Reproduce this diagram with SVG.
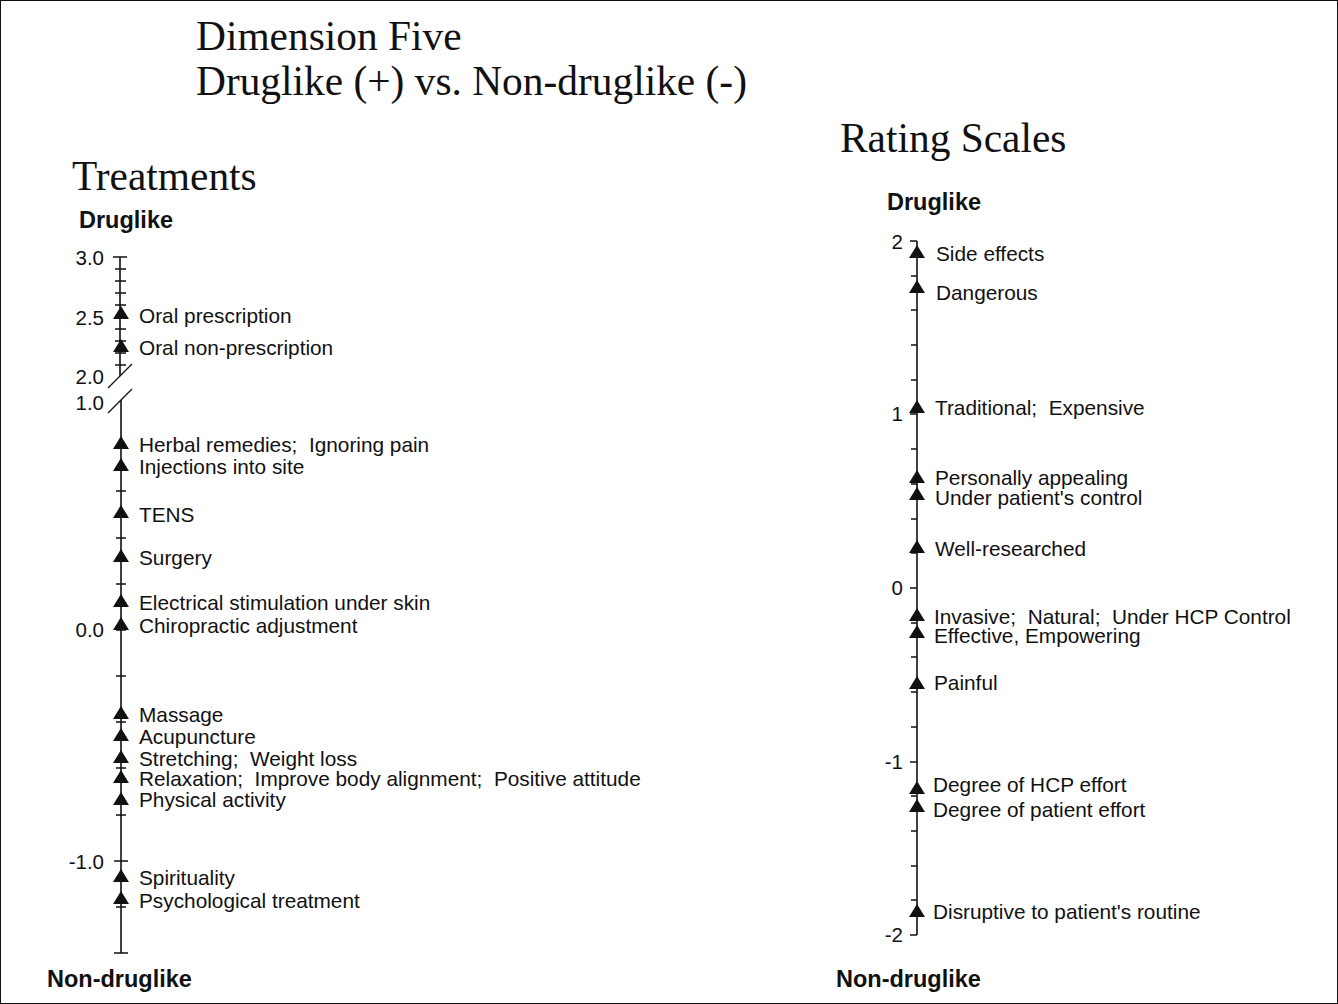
<svg xmlns="http://www.w3.org/2000/svg" xmlns:xlink="http://www.w3.org/1999/xlink" width="1338" height="1004" viewBox="0 0 1338 1004">
<style>
.title{font-family:"Liberation Serif","Times New Roman",serif;font-size:41.4px;fill:#111}
.lab{font-family:"Liberation Sans",Arial,sans-serif;font-size:20.8px;fill:#111;white-space:pre}
.num{font-family:"Liberation Sans",Arial,sans-serif;font-size:20.5px;fill:#111;text-anchor:end}
.end{font-family:"Liberation Sans",Arial,sans-serif;font-size:23.5px;font-weight:bold;fill:#111}
.ax{stroke:#111;stroke-width:1.6;fill:none}
.tk{stroke:#111;stroke-width:1.3;fill:none}
.mk{fill:#111}
</style>
<defs>
<path id="tri" class="mk" d="M0,-8 L8,5 L-8,5 Z"/>
</defs>
<rect x="0.5" y="0.5" width="1337" height="1003" fill="#fff" stroke="#111" stroke-width="1"/>

<g id="titles">
<text class="title" x="196" y="50">Dimension Five</text>
<text class="title" x="196" y="95">Druglike (+) vs. Non-druglike (-)</text>
<text class="title" x="72" y="190">Treatments</text>
<text class="title" x="840" y="152">Rating Scales</text>
<text class="end" x="79" y="228">Druglike</text>
<text class="end" x="47" y="987">Non-druglike</text>
<text class="end" x="887" y="210">Druglike</text>
<text class="end" x="836" y="987">Non-druglike</text>
</g>

<g id="connectors">
<!-- left axis -->
<line class="ax" x1="120" y1="257" x2="120" y2="376"/>
<line class="ax" x1="121" y1="400" x2="121" y2="953"/>
<line class="tk" x1="108" y1="388" x2="132" y2="364"/>
<line class="tk" x1="108" y1="413" x2="132" y2="389"/>
<path class="tk" d="M113,257H127 M115,269H126 M115,281H126 M115,293H126 M115,305H126 M115,317H126 M115,329H126 M115,341H126 M115,353H126 M115,365H126"/>
<path class="tk" d="M116,445H126 M116,491H126 M116,538H126 M116,584H126 M116,630H126 M116,676H126 M116,722H126 M116,768H126 M116,815H126 M114,861H128 M116,907H126 M114,953H128"/>
<!-- right axis -->
<line class="ax" x1="917" y1="241" x2="917" y2="935"/>
<path class="tk" d="M910,241H917 M911,276H917 M911,310H917 M911,345H917 M911,380H917 M910,414H917 M911,449H917 M911,484H917 M911,519H917 M911,553H917 M910,588H917 M911,623H917 M911,657H917 M911,692H917 M911,727H917 M910,762H917 M911,796H917 M911,831H917 M911,866H917 M911,900H917 M910,935H917"/>
</g>

<g id="left-scale">
<text class="num" x="104" y="265">3.0</text>
<text class="num" x="104" y="325">2.5</text>
<text class="num" x="104" y="384">2.0</text>
<text class="num" x="104" y="410">1.0</text>
<text class="num" x="104" y="637">0.0</text>
<text class="num" x="104" y="869">-1.0</text>
</g>
<g id="right-scale">
<text class="num" x="903" y="249">2</text>
<text class="num" x="903" y="421">1</text>
<text class="num" x="903" y="595">0</text>
<text class="num" x="903" y="769">-1</text>
<text class="num" x="903" y="942">-2</text>
</g>

<g id="t-oral-rx"><use href="#tri" x="121" y="314"/><text class="lab" x="139" y="323">Oral prescription</text></g>
<g id="t-oral-otc"><use href="#tri" x="121" y="347"/><text class="lab" x="139" y="355">Oral non-prescription</text></g>
<g id="t-herbal"><use href="#tri" x="121" y="444"/><text class="lab" x="139" y="452">Herbal remedies;  Ignoring pain</text></g>
<g id="t-injections"><use href="#tri" x="121" y="466"/><text class="lab" x="139" y="474">Injections into site</text></g>
<g id="t-tens"><use href="#tri" x="121" y="513"/><text class="lab" x="139" y="522">TENS</text></g>
<g id="t-surgery"><use href="#tri" x="121" y="557"/><text class="lab" x="139" y="565">Surgery</text></g>
<g id="t-electrical"><use href="#tri" x="121" y="602"/><text class="lab" x="139" y="610">Electrical stimulation under skin</text></g>
<g id="t-chiro"><use href="#tri" x="121" y="625"/><text class="lab" x="139" y="633">Chiropractic adjustment</text></g>
<g id="t-massage"><use href="#tri" x="121" y="714"/><text class="lab" x="139" y="722">Massage</text></g>
<g id="t-acupuncture"><use href="#tri" x="121" y="736"/><text class="lab" x="139" y="744">Acupuncture</text></g>
<g id="t-stretching"><use href="#tri" x="121" y="758"/><text class="lab" x="139" y="766">Stretching;  Weight loss</text></g>
<g id="t-relaxation"><use href="#tri" x="121" y="778"/><text class="lab" x="139" y="786">Relaxation;  Improve body alignment;  Positive attitude</text></g>
<g id="t-physical"><use href="#tri" x="121" y="800"/><text class="lab" x="139" y="807">Physical activity</text></g>
<g id="t-spirituality"><use href="#tri" x="121" y="877"/><text class="lab" x="139" y="885">Spirituality</text></g>
<g id="t-psych"><use href="#tri" x="121" y="899"/><text class="lab" x="139" y="908">Psychological treatment</text></g>

<g id="r-side-effects"><use href="#tri" x="917" y="253"/><text class="lab" x="936" y="261">Side effects</text></g>
<g id="r-dangerous"><use href="#tri" x="917" y="288"/><text class="lab" x="936" y="300">Dangerous</text></g>
<g id="r-traditional"><use href="#tri" x="917" y="408"/><text class="lab" x="935" y="415">Traditional;  Expensive</text></g>
<g id="r-appealing"><use href="#tri" x="917" y="478"/><text class="lab" x="935" y="485">Personally appealing</text></g>
<g id="r-control"><use href="#tri" x="917" y="495"/><text class="lab" x="935" y="505">Under patient's control</text></g>
<g id="r-researched"><use href="#tri" x="917" y="548"/><text class="lab" x="935" y="556">Well-researched</text></g>
<g id="r-invasive"><use href="#tri" x="917" y="616"/><text class="lab" x="934" y="624">Invasive;  Natural;  Under HCP Control</text></g>
<g id="r-effective"><use href="#tri" x="917" y="633"/><text class="lab" x="934" y="643">Effective, Empowering</text></g>
<g id="r-painful"><use href="#tri" x="917" y="684"/><text class="lab" x="934" y="690">Painful</text></g>
<g id="r-hcp-effort"><use href="#tri" x="917" y="789"/><text class="lab" x="933" y="792">Degree of HCP effort</text></g>
<g id="r-patient-effort"><use href="#tri" x="917" y="807"/><text class="lab" x="933" y="817">Degree of patient effort</text></g>
<g id="r-disruptive"><use href="#tri" x="917" y="912"/><text class="lab" x="933" y="919">Disruptive to patient's routine</text></g>
</svg>
